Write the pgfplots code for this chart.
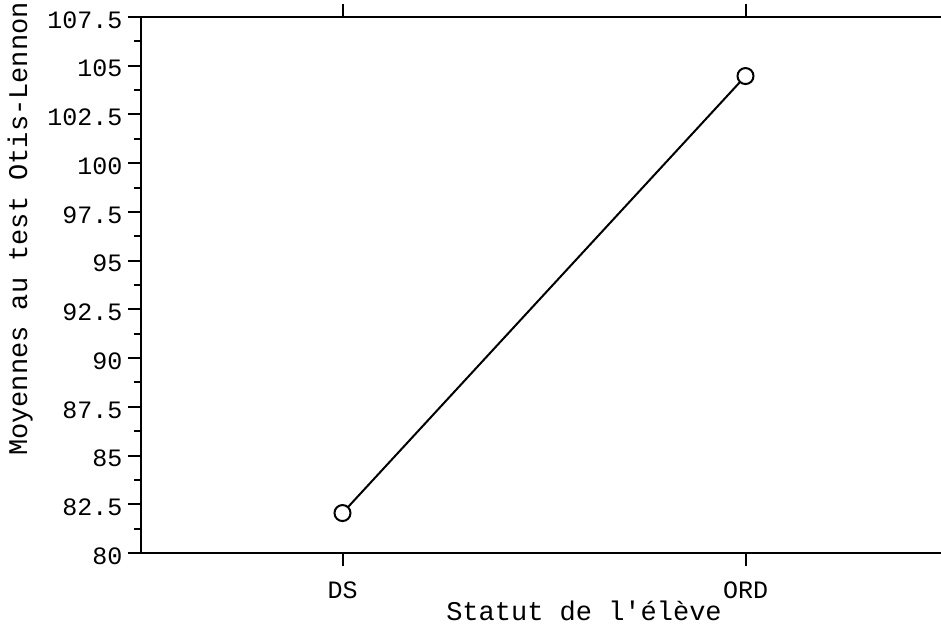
\documentclass[border=0pt]{standalone}
\usepackage{pgfplots}
\pgfplotsset{compat=1.18}
\usepackage{fontspec}
\setmainfont{Liberation Mono}[Ligatures=TeXOff]
\begin{document}
\begin{tikzpicture}
\begin{axis}[
  at={(141pt,77pt)}, anchor=south west,
  scale only axis,
  width=806pt, height=536pt,
  xmin=-0.5, xmax=1.5,
  ymin=80, ymax=107.5,
  axis x line*=box,
  axis y line*=left,
  axis line style={line width=2pt},
  tick align=outside,
  major tick length=13pt,
  minor tick length=7pt,
  every tick/.style={line width=2pt, black},
  xtick={0,1},
  xticklabels={DS,ORD},
  ytick={80,82.5,...,107.5},
  yticklabels={80,82.5,85,87.5,90,92.5,95,97.5,100,102.5,105,107.5},
  minor y tick num=1,
  ticklabel style={font=\fontsize{25}{30}\selectfont},
  yticklabel style={xshift=-2pt, yshift=-3pt},
  xticklabel style={yshift=-12pt},
  label style={font=\fontsize{27}{32}\selectfont},
  xlabel={Statut de l'élève},
  ylabel={Moyennes au test Otis-Lennon},
  xlabel style={at={(axis description cs:0.5496,-0.125)}, anchor=base},
  ylabel style={at={(axis description cs:-0.1414,0.6045)}, anchor=base, rotate=0},
  clip=false,
]
\addplot[black, line width=2pt, mark=*, mark size=8pt,
  mark options={fill=white, draw=black, line width=2pt}]
  coordinates {(0,82.05) (1,104.47)};
\end{axis}
\pgfresetboundingbox
\useasboundingbox (0,0) rectangle (941pt,630pt);
\end{tikzpicture}
\end{document}
